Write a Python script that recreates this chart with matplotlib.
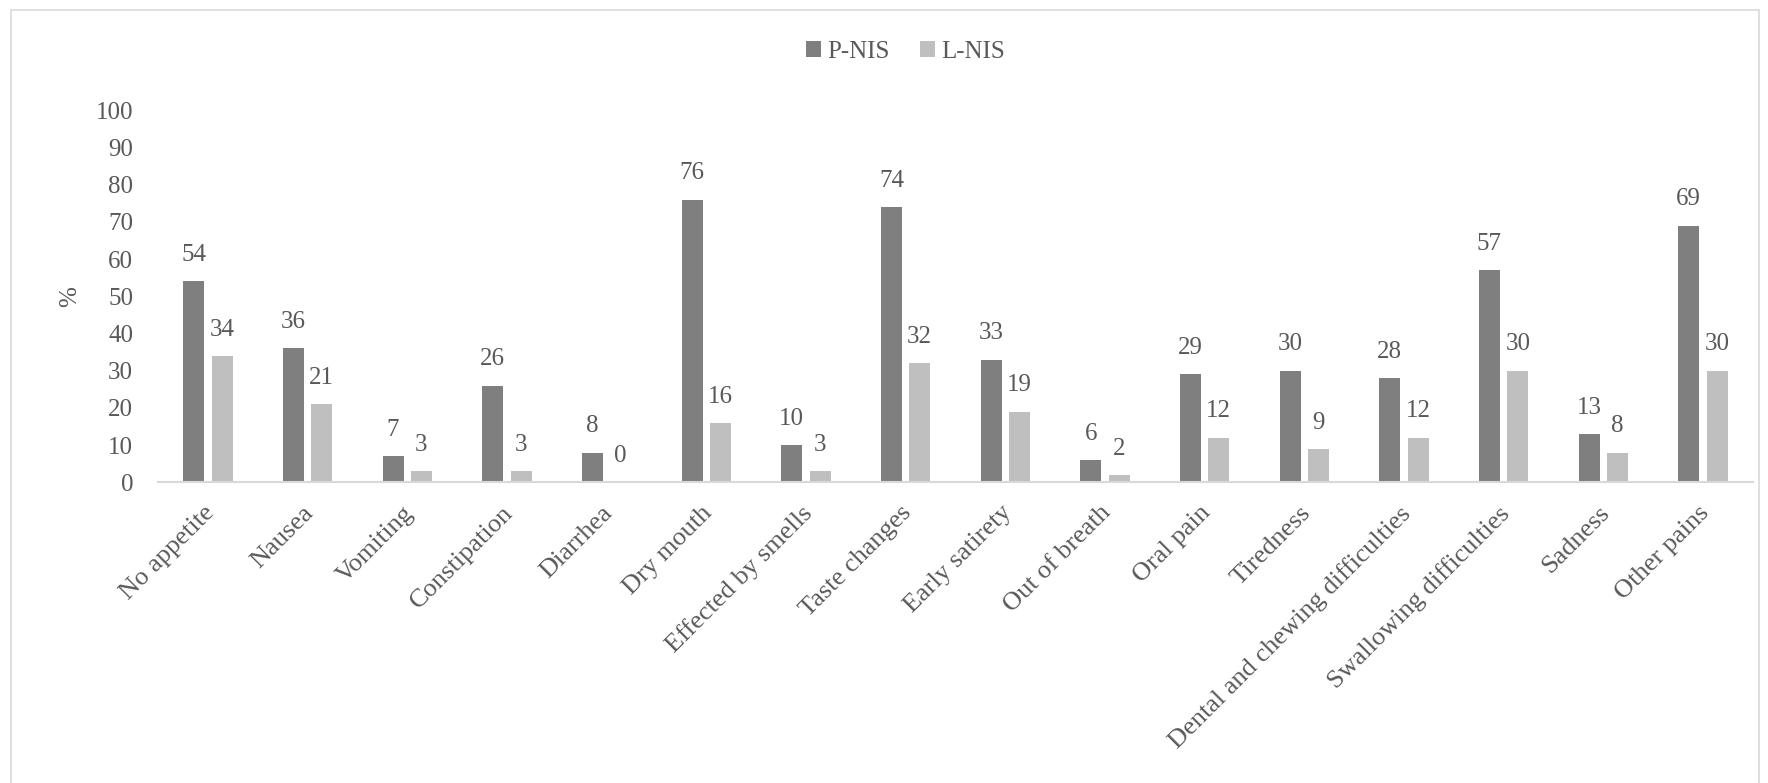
import numpy as np
import matplotlib.pyplot as plt
import matplotlib.transforms as mtransforms
from matplotlib.patches import Rectangle

plt.rcParams['font.family'] = ['Liberation Serif', 'DejaVu Serif']

symptoms = ["No appetite", "Nausea", "Vomiting", "Constipation", "Diarrhea",
            "Dry mouth", "Effected by smells", "Taste changes", "Early satirety",
            "Out of breath", "Oral pain", "Tiredness",
            "Dental and chewing difficulties", "Swallowing difficulties",
            "Sadness", "Other pains"]
p_nis = [54, 36, 7, 26, 8, 76, 10, 74, 33, 6, 29, 30, 28, 57, 13, 69]
l_nis = [34, 21, 3, 3, 0, 16, 3, 32, 19, 2, 12, 9, 12, 30, 8, 30]
y_ticks = list(range(0, 101, 10))

text_col = "#595959"
dark = "#7f7f7f"
light = "#bfbfbf"

fig = plt.figure(figsize=(17.68, 7.83), dpi=100)
ax = fig.add_axes([0.0894, 0.384, 0.902, 0.475])

# outer chart border like the excel chart area
fig.patches.append(Rectangle((0.006, -0.02), 0.989, 1.007, transform=fig.transFigure,
                             fill=False, edgecolor="#d9d9d9", linewidth=1.2))

x = np.arange(len(symptoms))
w = 0.21
off = 0.142
b1 = ax.bar(x - off, p_nis, w, color=dark, label="P-NIS")
b2 = ax.bar(x + off, l_nis, w, color=light, label="L-NIS")

for bars, vals in [(b1, p_nis), (b2, l_nis)]:
    for rect, v in zip(bars, vals):
        ax.annotate(str(v), (rect.get_x() + rect.get_width() / 2, v),
                    xytext=(0, 11), textcoords="offset points",
                    ha="center", va="bottom", fontsize=18, color=text_col)

ax.set_xlim(-0.5, len(symptoms) - 0.5)
ax.set_ylim(0, 100)
ax.set_yticks(y_ticks)
ax.tick_params(axis="y", length=0, pad=18, labelsize=18, labelcolor=text_col)
ax.tick_params(axis="x", length=0, pad=14, labelsize=19, labelcolor=text_col)
ax.set_xticks(x)
ax.set_xticklabels(symptoms, rotation=45, ha="right", va="top", rotation_mode="anchor")
shift = mtransforms.ScaledTranslation(-5 / 100, 0, fig.dpi_scale_trans)
for lab in ax.get_xticklabels():
    lab.set_transform(lab.get_transform() + shift)

for s in ["top", "right", "left"]:
    ax.spines[s].set_visible(False)
ax.spines["bottom"].set_color("#d9d9d9")
ax.spines["bottom"].set_linewidth(1.5)

ax.set_ylabel("%", fontsize=18, color=text_col)
ax.yaxis.label.set_va("center")
ax.yaxis.set_label_coords(-0.055, 0.5)

fig.legend(handles=[b1, b2], loc="center", bbox_to_anchor=(0.512, 0.934), ncol=2,
           frameon=False, fontsize=18, labelcolor=text_col, handlelength=0.6,
           handleheight=0.6, handletextpad=0.25, columnspacing=1.2)

plt.savefig("out.png", dpi=100)
